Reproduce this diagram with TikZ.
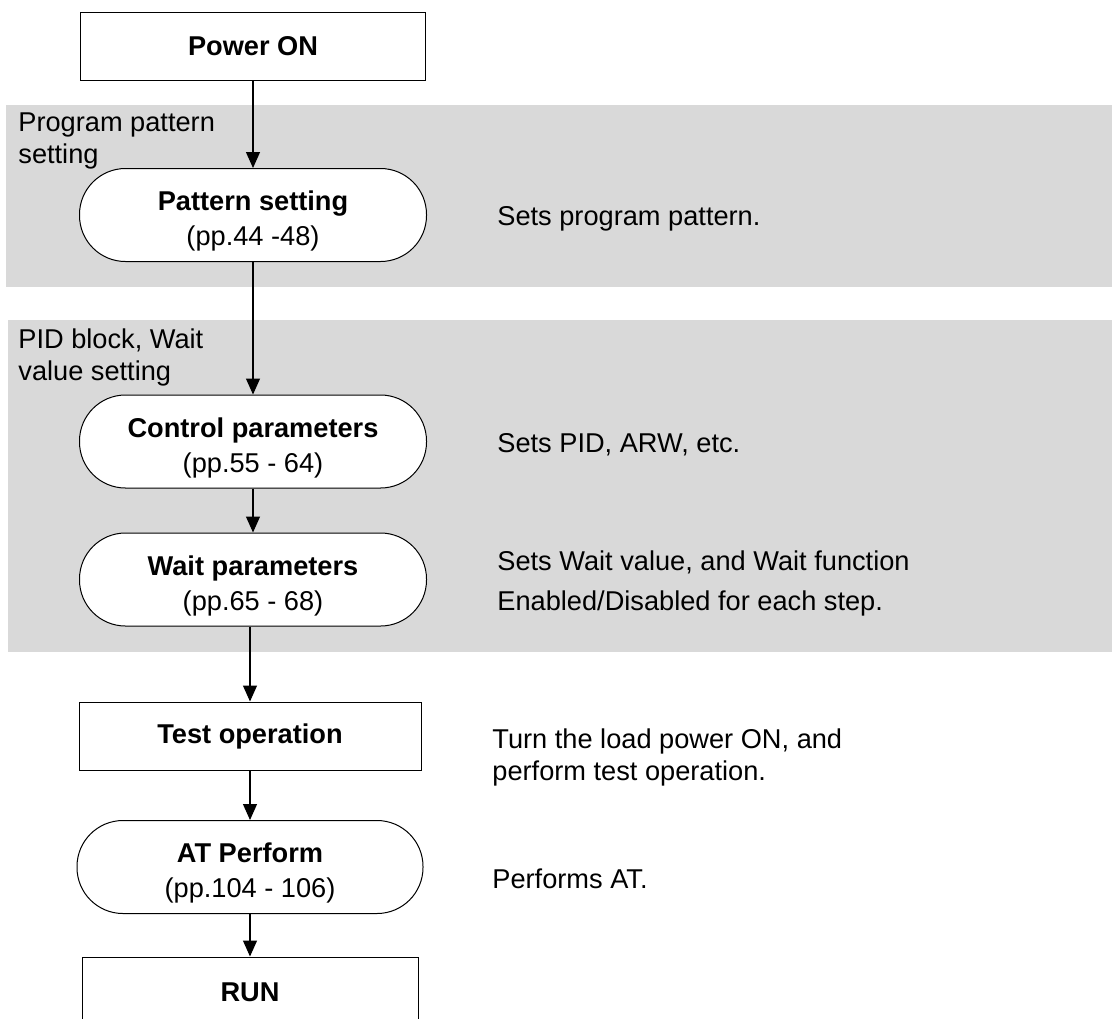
\documentclass[tikz,border=0pt]{standalone}
\usepackage{fontspec}
\setmainfont{Liberation Sans}
\usetikzlibrary{arrows.meta}
\definecolor{bandgray}{HTML}{D9D9D9}
\newcommand{\steptxt}[2]{\rule{0pt}{16pt}\textbf{#1}\\#2}

\begin{document}
\begin{tikzpicture}[x=0.5pt, y=-0.5pt, >={Triangle[length=8pt,width=7pt]},
  every node/.style={font=\fontsize{13.6}{17.5}\selectfont},
  box/.style={draw, line width=0.5pt, fill=white, minimum height=34pt,
    font=\fontsize{13.6}{17.5}\selectfont\bfseries},
  stadium/.style={draw, line width=0.5pt, fill=white, rounded corners=23pt,
    minimum width=173.5pt, minimum height=46.5pt, align=center},
  note/.style={anchor=base west, inner sep=0pt, align=left,
    font=\fontsize{13.6}{16}\selectfont},
  link/.style={->, line width=0.6pt}]
\useasboundingbox (0,0) rectangle (1112,1018);
\clip (0,0) rectangle (1112,1018);

\fill[bandgray] (6,105) rectangle (1112,287);
\fill[bandgray] (8,320) rectangle (1112,652);

\node[box, minimum width=172.5pt] (pwr) at (253,46) {Power ON};
\node[stadium] (pat) at (253,215) {\steptxt{Pattern setting}{(pp.44 -48)}};
\node[stadium] (ctl) at (253,441.5) {\steptxt{Control parameters}{(pp.55 - 64)}};
\node[stadium] (wt) at (253,579.5) {\steptxt{Wait parameters}{(pp.65 - 68)}};
\node[box, minimum width=171pt] (tst) at (250,736) {Test operation};
\node[stadium, minimum width=173pt] (atp) at (250,867) {\steptxt{AT Perform}{(pp.104 - 106)}};
\node[box, minimum width=168pt, minimum height=35pt] (run) at (250,992) {RUN};

\node[note] (lA) at (18,163) {Program pattern\\setting};
\node[note] (lB) at (18,380) {PID block, Wait\\value setting};

\node[note] (dA) at (497,225) {Sets program pattern.};
\node[note] (dB) at (497,452) {Sets PID, ARW, etc.};
\node[note] (dC) at (497,610) {Sets Wait value, and Wait function\\[4pt]Enabled/Disabled for each step.};
\node[note] (dD) at (492,780) {Turn the load power ON, and\\perform test operation.};
\node[note] (dE) at (492,888) {Performs AT.};

\draw[link] (pwr) -- (pat);
\draw[link] (pat) -- (ctl);
\draw[link] (ctl) -- (wt);
\draw[link] (wt.south -| tst) -- (tst);
\draw[link] (tst) -- (atp);
\draw[link] (atp) -- (run);
\end{tikzpicture}
\end{document}
